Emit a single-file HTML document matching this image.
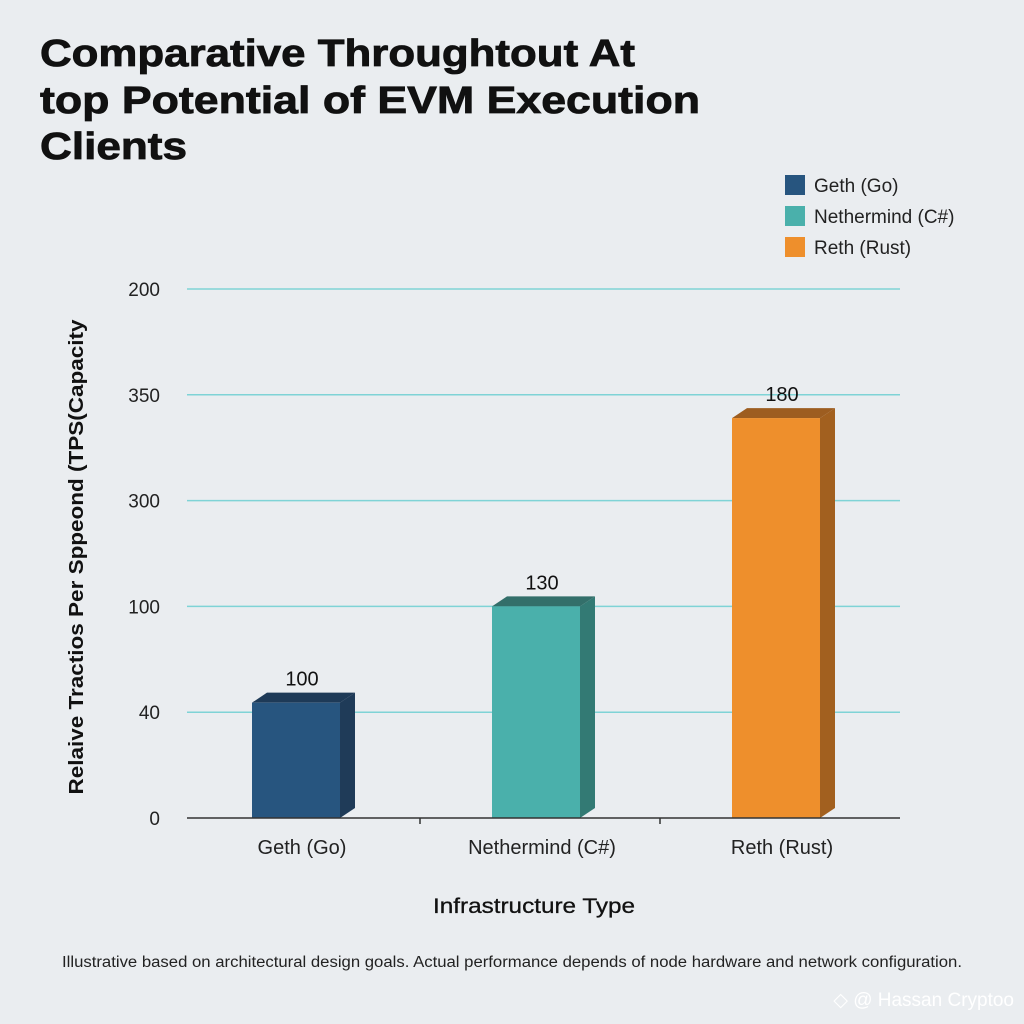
<!DOCTYPE html>
<html><head><meta charset="utf-8"><style>
body{margin:0;background:#eaedf0;}
svg{display:block;font-family:"Liberation Sans",sans-serif;}
</style></head><body>
<svg id="chart" width="1024" height="1024" viewBox="0 0 1024 1024">
<rect width="1024" height="1024" fill="#eaedf0"/>
<g font-size="38" font-weight="bold" fill="#111" stroke="#111" stroke-width="0.8">
<text x="40" y="66" textLength="595" lengthAdjust="spacingAndGlyphs">Comparative Throughtout At</text>
<text x="40" y="113" textLength="660" lengthAdjust="spacingAndGlyphs">top Potential of EVM Execution</text>
<text x="40" y="159" textLength="147" lengthAdjust="spacingAndGlyphs">Clients</text>
</g>
<g id="legend" font-size="19" fill="#222"></g>
<g id="grid"></g>
<g id="yticks" font-size="19" fill="#222" text-anchor="end"></g>
<g id="bars"></g>
<g id="xaxis"></g>
<text x="0" y="0" transform="translate(83,557) rotate(-90)" text-anchor="middle" font-size="20" font-weight="bold" fill="#111" textLength="475" lengthAdjust="spacingAndGlyphs">Relaive Tractios Per Sppeond (TPS(Capacity</text>
<text x="534" y="913" text-anchor="middle" font-size="21" fill="#111" stroke="#111" stroke-width="0.3" textLength="202" lengthAdjust="spacingAndGlyphs">Infrastructure Type</text>
<text x="62" y="967" font-size="15.5" fill="#222" textLength="900" lengthAdjust="spacingAndGlyphs">Illustrative based on architectural design goals. Actual performance depends of node hardware and network configuration.</text>
<text x="1014" y="1006" text-anchor="end" font-size="19" fill="#fff">◇ @ Hassan Cryptoo</text>
</svg>
<script>
const categories = ["Geth (Go)", "Nethermind (C#)", "Reth (Rust)"];
const printedValues = [100, 130, 180];
const barHeightUnits = [1.09, 2.0, 3.78];
const tickLabels = ["0", "40", "100", "300", "350", "200"];
const colors = [["#27557f","#1f3b58","#1e3a57"],["#4ab0ab","#337a74","#336f6a"],["#ee8f2c","#a2601f","#9d5d20"]];

const NS="http://www.w3.org/2000/svg";
const x0=187,x1=900,yBase=818,unit=105.8;
function yScale(u){return yBase-u*unit;}
function xCenter(i){return 296+i*240;}
function mk(tag,attrs,parent){const e=document.createElementNS(NS,tag);for(const k in attrs)e.setAttribute(k,attrs[k]);parent.appendChild(e);return e;}

const grid=document.getElementById('grid'), yt=document.getElementById('yticks');
tickLabels.forEach((t,i)=>{
  const y=yScale(i);
  if(i>0){const l=mk('line',{x1:x0,x2:x1,y1:y,y2:y,stroke:'#7fd3d6','stroke-width':1.5},grid);
  
  }
  const tx=mk('text',{x:160,y:y+7},yt);tx.textContent=t;
  
  
});

const bars=document.getElementById('bars');
const w=88,dx=15,dy=10;
categories.forEach((c,i)=>{
  const xl=xCenter(i)-w/2, xr=xl+w, yt2=yScale(barHeightUnits[i]);
  const g=mk('g',{},bars);
  
  
  mk('polygon',{points:`${xr},${yt2} ${xr+dx},${yt2-dy} ${xr+dx},${yBase-dy} ${xr},${yBase}`,fill:colors[i][1]},g);
  mk('polygon',{points:`${xl},${yt2} ${xl+dx},${yt2-dy} ${xr+dx},${yt2-dy} ${xr},${yt2}`,fill:colors[i][2]},g);
  mk('rect',{x:xl,y:yt2,width:w,height:yBase-yt2,fill:colors[i][0]},g);
  const lb=mk('text',{x:xCenter(i)+6,y:yt2-17,'text-anchor':'middle','font-size':20,fill:'#111'},bars);
  lb.textContent=printedValues[i];
  
  
});

const xa=document.getElementById('xaxis');
mk('line',{x1:x0,x2:x1,y1:yBase,y2:yBase,stroke:'#333','stroke-width':1.5},xa);
[420,660].forEach(x=>mk('line',{x1:x,x2:x,y1:yBase,y2:yBase+6,stroke:'#333','stroke-width':1.5},xa));
categories.forEach((c,i)=>{
  const t=mk('text',{x:xCenter(i)+6,y:854,'text-anchor':'middle','font-size':20,fill:'#222'},xa);
  t.textContent=c;
  
  
});

const lg=document.getElementById('legend');
categories.forEach((c,i)=>{
  const y=175+i*31;
  const r=mk('rect',{x:785,y:y,width:20,height:20,fill:colors[i][0]},lg);
  
  
  const t=mk('text',{x:814,y:y+17},lg);t.textContent=c;
  
  
});
</script>
</body></html>
